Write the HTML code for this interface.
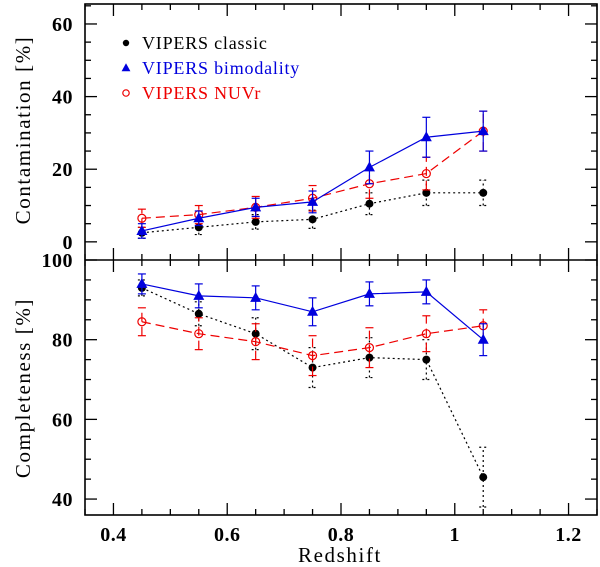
<!DOCTYPE html>
<html><head><meta charset="utf-8"><style>body{margin:0;background:#fff}svg{display:block}</style></head>
<body>
<svg id="c" width="600" height="567" xmlns="http://www.w3.org/2000/svg" font-family="Liberation Sans, sans-serif"></svg>
<script>
const zs=[0.45,0.55,0.65,0.75,0.85,0.95,1.05];
const contClassic=[2.5,4,5.5,6.2,10.5,13.5,13.5];
const contClassicErr=[1.5,2,2,2.5,3,3.5,3.5];
const contBimod=[3,6.5,9.5,11,20.5,28.8,30.5];
const contBimodErr=[2,2,2.5,3,4.5,5.5,5.5];
const contNuv=[6.5,7.5,9.5,12,16,18.8,30.5];
const contNuvErr=[2.5,2.5,3,3.5,4,4.5,5.5];
const compClassic=[93,86.5,81.5,73,75.5,75,45.5];
const compClassicErr=[2,3,4,5,5,5,7.5];
const compBimod=[94,91,90.5,87,91.5,92,80];
const compBimodErr=[2.5,3,3,3.5,3,3,4];
const compNuv=[84.5,81.5,79.5,76,78,81.5,83.5];
const compNuvErr=[3.5,4,4.5,5,5,4.5,4];
const xTicks=[0.4,0.6,0.8,1,1.2];
const topTicks=[0,20,40,60];
const botTicks=[40,60,80,100];

const NS="http://www.w3.org/2000/svg",svg=document.getElementById('c');
const L=85,R=597,T=4,M=260,B=515;
const X=v=>L+(v-0.35)*(R-L)/0.9;
const Yt=v=>M+(v+5)*(T-M)/70.5;
const Yb=v=>B+(v-36)*(M-B)/64;
function el(t,a,p){const e=document.createElementNS(NS,t);for(const k in a)e.setAttribute(k,a[k]);(p||svg).appendChild(e);return e;}
function ln(x1,y1,x2,y2,s,w,d){return el('line',{x1,y1,x2,y2,stroke:s||'#000','stroke-width':w||1.3,'stroke-dasharray':d||'none'});}
function txt(x,y,s,a){const e=el('text',Object.assign({x,y,'font-size':18,fill:'#000'},a||{}));e.textContent=s;return e;}

let f=el('rect',{x:L,y:T,width:R-L,height:B-T,fill:'none',stroke:'#000','stroke-width':1.6});

let sep=ln(L,M,R,M,'#000',1.6);

const tk={'font-family':'Liberation Serif, serif','font-size':20,'font-weight':'bold','letter-spacing':'0.5'};
for(let v=0.35;v<=1.2501;v+=0.05){const x=X(v);const maj=xTicks.some(t=>Math.abs(t-v)<1e-6);const l=maj?12:6;
 ln(x,B,x,B-l);ln(x,M,x,M-l);ln(x,M,x,M+l);ln(x,T,x,T+l);}
xTicks.forEach(v=>{const t=txt(X(v),541,String(v),Object.assign({'text-anchor':'middle'},tk));
 });
for(let v=0;v<=65;v+=5){const y=Yt(v),l=v%20?6:12;ln(L,y,L+l,y);ln(R,y,R-l,y);}
topTicks.forEach(v=>{const t=txt(L-12,Yt(v)+7,String(v),Object.assign({'text-anchor':'end'},tk));
 });
for(let v=40;v<=100;v+=5){const y=Yb(v),l=v%20?6:12;ln(L,y,L+l,y);ln(R,y,R-l,y);}
botTicks.forEach(v=>{const t=txt(L-12,Yb(v)+7,String(v),Object.assign({'text-anchor':'end'},tk));
 });
const ser={'font-family':'Liberation Serif, serif','font-size':21,'letter-spacing':'1.6'};
let a1=txt(340,562,'Redshift',Object.assign({'text-anchor':'middle'},ser));
let a2=txt(0,0,'Contamination [%]',Object.assign({'text-anchor':'middle',transform:'translate(30,130) rotate(-90)'},ser));
let a3=txt(0,0,'Completeness [%]',Object.assign({'text-anchor':'middle',transform:'translate(30,388) rotate(-90)'},ser));

function marker(x,y,type,color,s){s=s||1;let m;
 if(type==='dot')m=el('circle',{cx:x,cy:y,r:4*s,fill:color});
 else if(type==='tri')m=el('polygon',{points:`${x},${y-6*s} ${x-5.5*s},${y+4*s} ${x+5.5*s},${y+4*s}`,fill:color});
 else m=el('circle',{cx:x,cy:y,r:4*s,fill:'none',stroke:color,'stroke-width':1.2});
 return m;}
function series(vals,errs,Y,color,dash,type,name){
 const pts=zs.map((z,i)=>[X(z),Y(vals[i])]);
 const p=el('polyline',{points:pts.map(p=>p.join(',')).join(' '),fill:'none',stroke:color,'stroke-width':1.2,'stroke-dasharray':dash});
 
 zs.forEach((z,i)=>{const x=X(z),y1=Y(vals[i]-errs[i]),y2=Y(vals[i]+errs[i]);
  const e=ln(x,y1,x,y2,color,1.2,dash);
  ln(x-4,y1,x+4,y1,color,1.2,dash);ln(x-4,y2,x+4,y2,color,1.2,dash);
  const m=marker(x,Y(vals[i]),type,color);});
}
series(contClassic,contClassicErr,Yt,'#000','2,3','dot','classic-contamination');
series(contNuv,contNuvErr,Yt,'#e00','9,5','open','nuvr-contamination');
series(contBimod,contBimodErr,Yt,'#00d','none','tri','bimodality-contamination');
series(compClassic,compClassicErr,Yb,'#000','2,3','dot','classic-completeness');
series(compNuv,compNuvErr,Yb,'#e00','9,5','open','nuvr-completeness');
series(compBimod,compBimodErr,Yb,'#00d','none','tri','bimodality-completeness');
[['VIPERS classic','#000','dot',43],['VIPERS bimodality','#00d','tri',68],['VIPERS NUVr','#e00','open',93]].forEach(([s,c,t,y])=>{
 const m=marker(126,y,t,c,0.8);
 const e=txt(142,y+6,s,{fill:c,'font-size':18,'font-family':'Liberation Serif, serif','letter-spacing':'0.8'});});
</script>
</body></html>
